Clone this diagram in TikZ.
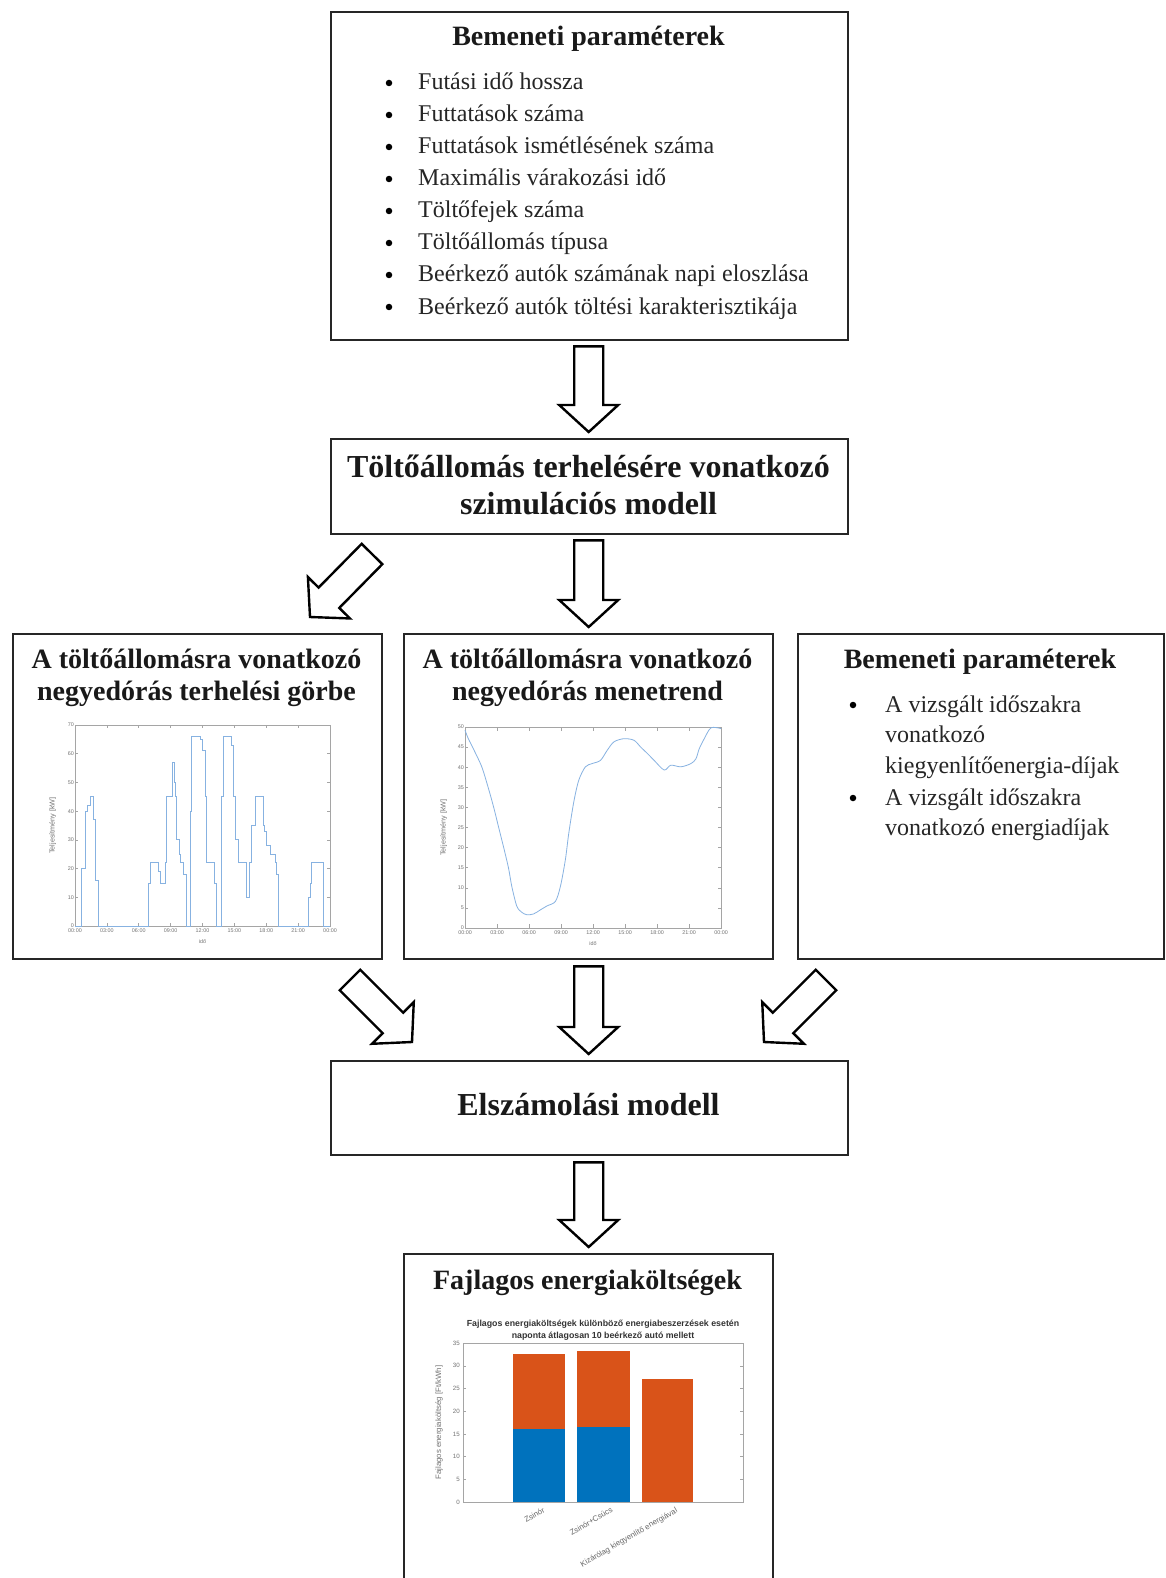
\documentclass[tikz,border=0pt]{standalone}
\usepackage{fontspec}
\setmainfont{Liberation Serif}
\newfontfamily\chartfont{Liberation Sans}
\usetikzlibrary{calc}

\definecolor{mblue}{RGB}{0,114,189}
\definecolor{morange}{RGB}{217,83,25}
\definecolor{curvecol}{RGB}{135,178,225}
\definecolor{axgray}{RGB}{165,165,165}

\tikzset{
 boxst/.style={draw=black!85, line width=2.4pt, anchor=north west, inner sep=0pt},
 barrow/.style={draw=black, line width=2.4pt, line join=miter, fill=white},
 ttl/.style={font=\fontsize{28}{30}\selectfont\bfseries, anchor=base, inner sep=0pt, text=black!90},
 ttlbig/.style={font=\fontsize{32}{34}\selectfont\bfseries, anchor=base, inner sep=0pt, text=black!90},
 itm/.style={font=\fontsize{24}{26}\selectfont, anchor=base west, inner sep=0pt, text=black!85},
 bul/.style={circle, fill=black, inner sep=0pt, minimum size=6.5pt},
 axbox/.style={draw=axgray, line width=0.6pt},
 tickl/.style={font=\chartfont\fontsize{5.4}{6}\selectfont, text=black!55, inner sep=1pt},
 axl/.style={font=\chartfont\fontsize{7.2}{8}\selectfont, text=black!55, inner sep=1pt},
 btickl/.style={font=\chartfont\fontsize{7.8}{8}\selectfont, text=black!60, inner sep=0pt},
 ctitle/.style={font=\chartfont\bfseries\fontsize{8.8}{9}\selectfont, text=black!80, inner sep=0pt},
 crv/.style={draw=curvecol, line width=0.8pt},
}

\newcommand\blkarrow[2]{%
  \coordinate (#1h) at ($(#2)!27pt!(#1)$);
  \draw[barrow] ($(#1)!14.5pt!90:(#2)$) -- ($(#1h)!14.5pt!90:(#2)$) -- ($(#1h)!29.5pt!90:(#2)$) -- (#2) -- ($(#1h)!29.5pt!-90:(#2)$) -- ($(#1h)!14.5pt!-90:(#2)$) -- ($(#1)!14.5pt!-90:(#2)$) -- cycle;}

\begin{document}
\begin{tikzpicture}[x=1pt,y=-1pt]
\useasboundingbox[fill=white] (0,0) rectangle (1165,1578);

% ---------- boxes ----------
\node[boxst, minimum width=517pt, minimum height=328pt] (inp) at (330,11) {};
\node[boxst, minimum width=517pt, minimum height=95pt] (sim) at (330,438) {};
\node[boxst, minimum width=369pt, minimum height=325pt] (load) at (12,633) {};
\node[boxst, minimum width=369pt, minimum height=325pt] (sched) at (403,633) {};
\node[boxst, minimum width=366pt, minimum height=325pt] (inp2) at (797,633) {};
\node[boxst, minimum width=517pt, minimum height=94pt] (acc) at (330,1060) {};
\node[boxst, minimum width=369pt, minimum height=345pt] (cost) at (403,1253) {};

% ---------- block arrows ----------
\coordinate (a1t) at ($(inp.south)+(-1,5)$);
\coordinate (a1p) at ($(sim.north)+(-1,-6)$);
\coordinate (a2t) at ($(sim.south)+(-1,5)$);
\coordinate (a2p) at ($(sched.north)+(0,-6)$);
\coordinate (a3t) at (372,554);
\coordinate (a3p) at (310,617);
\coordinate (a4t) at (350,980);
\coordinate (a4p) at (412,1042);
\coordinate (a5t) at ($(sched.south)+(0,6)$);
\coordinate (a5p) at ($(acc.north)+(-1,-6)$);
\coordinate (a6t) at (826,980);
\coordinate (a6p) at (764,1042);
\coordinate (a7t) at ($(acc.south)+(-1,6)$);
\coordinate (a7p) at ($(cost.north)+(0,-6)$);
\blkarrow{a1t}{a1p}
\blkarrow{a2t}{a2p}
\blkarrow{a3t}{a3p}
\blkarrow{a4t}{a4p}
\blkarrow{a5t}{a5p}
\blkarrow{a6t}{a6p}
\blkarrow{a7t}{a7p}

% ---------- texts ----------
\node[ttl] (inpT) at (588.5,46) {Bemeneti paraméterek};
\foreach \t [count=\i from 0] in {Futási idő hossza, Futtatások száma, Futtatások ismétlésének száma, Maximális várakozási idő, Töltőfejek száma, Töltőállomás típusa, Beérkező autók számának napi eloszlása, Beérkező autók töltési karakterisztikája}{
  \node[itm] (inpI\i) at (418,{90+32*\i}) {\t};
  \node[bul] (inpB\i) at (389,{83+32*\i}) {};
}

\node[ttlbig] (simT1) at (588.5,477) {Töltőállomás terhelésére vonatkozó};
\node[ttlbig] (simT2) at (588.5,514) {szimulációs modell};

\node[ttl] (loadT1) at (196.5,668) {A töltőállomásra vonatkozó};
\node[ttl] (loadT2) at (196.5,700) {negyedórás terhelési görbe};
\node[ttl] (schedT1) at (587.5,668) {A töltőállomásra vonatkozó};
\node[ttl] (schedT2) at (587.5,700) {negyedórás menetrend};

\node[ttl] (inp2T) at (980,668) {Bemeneti paraméterek};
\node[itm] (inp2I1) at (885,712) {A vizsgált időszakra};
\node[itm] (inp2I2) at (885,742) {vonatkozó};
\node[itm] (inp2I3) at (885,773) {kiegyenlítőenergia-díjak};
\node[itm] (inp2I4) at (885,805) {A vizsgált időszakra};
\node[itm] (inp2I5) at (885,835) {vonatkozó energiadíjak};
\node[bul] (inp2B1) at (853,705) {};
\node[bul] (inp2B2) at (853,798) {};

\node[ttlbig] (accT) at (588.5,1115) {Elszámolási modell};
\node[ttl] (costT) at (587.5,1289) {Fajlagos energiaköltségek};

% ---------- left chart: load curve ----------
\begin{scope}[shift={(75pt,-926pt)}, x=10.625pt, y=2.871pt]
  \draw[axbox] (0,0) rectangle (24,70);
  \foreach \h in {3,6,...,21}{\draw[axbox] (\h,0) -- ++(0,1.2); \draw[axbox] (\h,70) -- ++(0,-1.2);}
  \foreach \v in {10,20,...,60}{\draw[axbox] (0,\v) -- ++(0.3,0); \draw[axbox] (24,\v) -- ++(-0.3,0);}
  \foreach \v [count=\i] in {0,10,...,70}{\node[tickl, anchor=east] (lyl\i) at (0,\v) {\v};}
  \foreach \h/\l [count=\i] in {0/00:00,3/03:00,6/06:00,9/09:00,12/12:00,15/15:00,18/18:00,21/21:00,24/00:00}{\node[tickl, anchor=north] (lxl\i) at (\h,-0.5) {\l};}
  \node[tickl, anchor=north] (lxt) at (12,-4.2) {idő};
  \node[axl, rotate=90] (lyt) at (-2.1,35) {Teljesítmény [kW]};
  \draw[crv] (0,0) -| (0.63,20) -| (0.94,40) -| (1.16,42) -| (1.41,45) -| (1.73,37) -| (1.88,16) -| (2.2,0)
    -| (6.9,15) -| (7.12,22) -| (7.84,19) -| (8.0,15) -| (8.47,22) -| (8.56,30) -| (8.63,45) -| (9.19,57)
    -| (9.35,50) -| (9.47,45) -| (9.57,30) -| (9.8,25) -| (9.95,22) -| (10.2,18) -| (10.5,0)
    -| (10.82,40) -| (10.98,66) -| (11.83,65) -| (12.0,61) -| (12.24,45) -| (12.39,22) -| (13.08,15) -| (13.33,0)
    -| (13.74,45) -| (13.96,66) -| (14.75,63) -| (14.9,45) -| (15.06,30) -| (15.37,22) -| (16.16,10)
    -| (16.4,22) -| (16.6,35) -| (16.94,45) -| (17.73,35) -| (17.85,33) -| (18.0,28) -| (18.4,25) -| (18.82,22)
    -| (18.95,18) -| (19.14,0) -| (21.96,10) -| (22.12,15) -| (22.27,22) -| (23.37,0) -- (24,0);
\end{scope}

% ---------- middle chart: schedule ----------
\begin{scope}[shift={(465pt,-928pt)}, x=10.667pt, y=4.02pt]
  \draw[axbox] (0,0) rectangle (24,50);
  \foreach \h in {3,6,...,21}{\draw[axbox] (\h,0) -- ++(0,0.9); \draw[axbox] (\h,50) -- ++(0,-0.9);}
  \foreach \v in {5,10,...,45}{\draw[axbox] (0,\v) -- ++(0.3,0); \draw[axbox] (24,\v) -- ++(-0.3,0);}
  \foreach \v [count=\i] in {0,5,...,50}{\node[tickl, anchor=east] (myl\i) at (0,\v) {\v};}
  \foreach \h/\l [count=\i] in {0/00:00,3/03:00,6/06:00,9/09:00,12/12:00,15/15:00,18/18:00,21/21:00,24/00:00}{\node[tickl, anchor=north] (mxl\i) at (\h,-0.4) {\l};}
  \node[tickl, anchor=north] (mxt) at (12,-3) {idő};
  \node[axl, rotate=90] (myt) at (-2.0,25) {Teljesítmény [kW]};
  \draw[crv] plot[smooth, tension=0.5] coordinates {(0,49.2) (0.31,47.1) (0.78,44.6) (1.57,40.1) (2.2,34.7) (2.67,30.2) (3.14,25.2) (3.61,20.2) (4.08,14.9) (4.39,10.3) (4.86,5.4) (5.33,3.9) (5.8,3.3) (6.43,3.5) (7.06,4.5) (7.69,5.5) (8.47,6.6) (8.94,10.3) (9.41,17) (9.73,23.6) (10.2,31.4) (10.67,36.8) (11.29,40.1) (11.92,40.9) (12.7,41.7) (13.33,44.2) (13.96,46.3) (14.9,47.1) (15.84,46.7) (16.47,45) (17.1,43.4) (17.73,41.7) (18.67,39.3) (19.29,40.5) (20.24,40.1) (21.18,40.9) (21.65,42.1) (21.96,44.6) (22.43,47.1) (23.06,49.8) (24,49.6)};
\end{scope}

% ---------- bottom chart: costs ----------
\node[ctitle] (bcT1) at (603,1324) {Fajlagos energiaköltségek különböző energiabeszerzések esetén};
\node[ctitle] (bcT2) at (603,1336) {naponta átlagosan 10 beérkező autó mellett};
\begin{scope}[shift={(463pt,-1502pt)}, x=1pt, y=4.54pt]
  \fill[mblue] (50,0) rectangle (102,16);
  \fill[morange] (50,16) rectangle (102,32.5);
  \fill[mblue] (114,0) rectangle (167,16.5);
  \fill[morange] (114,16.5) rectangle (167,33.3);
  \fill[morange] (179,0) rectangle (230,27);
  \draw[axbox] (0,0) rectangle (280,35);
  \foreach \v in {5,10,...,30}{\draw[axbox] (0,\v) -- ++(3,0); \draw[axbox] (280,\v) -- ++(-3,0);}
  \foreach \v [count=\i] in {0,5,...,35}{\node[tickl, font=\chartfont\fontsize{6.2}{7}\selectfont, anchor=east] (byl\i) at (-2,\v) {\v};}
  \node[axl, font=\chartfont\fontsize{7.8}{8}\selectfont, rotate=90] (byt) at (-24,17.5) {Fajlagos energiaköltség [Ft/kWh]};
  \node[btickl, rotate=30, anchor=east] (bxl1) at (81,-1.6) {Zsinór};
  \node[btickl, rotate=30, anchor=east] (bxl2) at (149,-1.6) {Zsinór+Csúcs};
  \node[btickl, rotate=30, anchor=east] (bxl3) at (214,-1.8) {Kizárólag kiegyenlítő energiával};
\end{scope}

\end{tikzpicture}
\end{document}
